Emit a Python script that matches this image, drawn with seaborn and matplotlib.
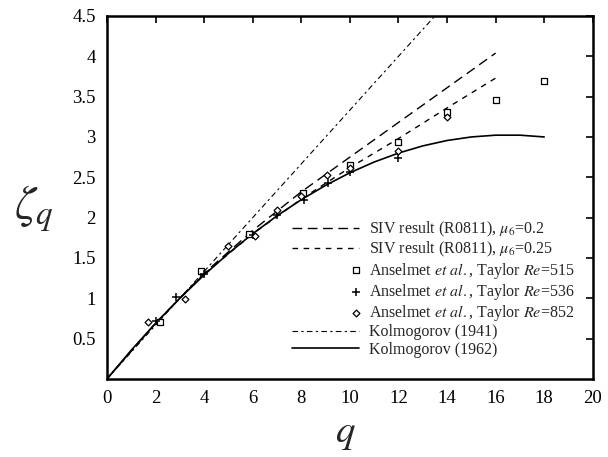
import matplotlib
matplotlib.use("Agg")
import matplotlib.pyplot as plt
import seaborn as sns
import numpy as np
from matplotlib.legend_handler import HandlerPathCollection

# ---- data ----
q_siv = [0, 2, 3, 4, 6, 8, 10, 12, 14, 16]
zeta_siv_02 = [0, 0.69, 1.0, 1.31, 1.84, 2.32, 2.75, 3.18, 3.61, 4.04]
zeta_siv_025 = [0, 0.69, 1.0, 1.30, 1.80, 2.23, 2.62, 2.98, 3.36, 3.73]

q_k41 = [0, 13.5]
zeta_k41 = [0, 4.5]

q_k62 = [0, 1, 2, 3, 4, 5, 6, 7, 8, 9, 10, 11, 12, 13, 14, 15, 16, 17, 18]
zeta_k62 = [0, 0.356, 0.689, 1.0, 1.289, 1.556, 1.8, 2.022, 2.222, 2.4,
            2.556, 2.689, 2.8, 2.889, 2.956, 3.0, 3.022, 3.022, 3.0]

q_515 = [2.2, 3.85, 5.85, 8.05, 10.0, 12.0, 14.0, 16.0, 18.0]
zeta_515 = [0.71, 1.34, 1.80, 2.30, 2.65, 2.94, 3.31, 3.46, 3.69]

q_536 = [2.0, 2.85, 4.0, 6.0, 7.0, 8.1, 9.1, 10.0, 12.0]
zeta_536 = [0.72, 1.02, 1.30, 1.78, 2.03, 2.22, 2.43, 2.57, 2.74]

q_852 = [1.7, 3.2, 5.0, 6.1, 7.0, 8.0, 9.05, 10.0, 12.0, 14.0]
zeta_852 = [0.71, 0.99, 1.65, 1.77, 2.10, 2.27, 2.53, 2.62, 2.82, 3.25]

x_ticks = [0, 2, 4, 6, 8, 10, 12, 14, 16, 18, 20]
y_ticks = [0.5, 1, 1.5, 2, 2.5, 3, 3.5, 4, 4.5]
y_tick_labels = ["0.5", "1", "1.5", "2", "2.5", "3", "3.5", "4", "4.5"]

sns.set_theme(style="white")
plt.rcParams['font.family'] = ['Liberation Serif', 'DejaVu Serif']
plt.rcParams['mathtext.fontset'] = 'stix'

fig = plt.figure(figsize=(6.08, 4.57), dpi=100)
ax = fig.add_axes([0.176, 0.171, 0.799, 0.794])

lw = 1.0
sns.lineplot(x=q_siv, y=zeta_siv_02, ax=ax, color='black', lw=lw,
             linestyle=(0, (7, 4)), label=r'SIV result (R0811), $\mu_6$=0.2')
sns.lineplot(x=q_siv, y=zeta_siv_025, ax=ax, color='black', lw=lw,
             linestyle=(0, (4, 4)), label=r'SIV result (R0811), $\mu_6$=0.25')
sns.scatterplot(x=q_515, y=zeta_515, ax=ax, marker='s', s=22,
                facecolor='white', edgecolor='black', linewidth=0.9,
                label=r'Anselmet $\mathit{et\ al.}$, Taylor $\mathit{Re}$=515', zorder=5)
sns.scatterplot(x=q_536, y=zeta_536, ax=ax, marker='+', s=32,
                color='black', linewidth=1.1,
                label=r'Anselmet $\mathit{et\ al.}$, Taylor $\mathit{Re}$=536', zorder=5)
sns.scatterplot(x=q_852, y=zeta_852, ax=ax, marker='D', s=12,
                facecolor='white', edgecolor='black', linewidth=0.9,
                label=r'Anselmet $\mathit{et\ al.}$, Taylor $\mathit{Re}$=852', zorder=5)
sns.lineplot(x=q_k41, y=zeta_k41, ax=ax, color='black', lw=0.8,
             linestyle=(0, (5, 3, 2, 3)), label='Kolmogorov (1941)')
sns.lineplot(x=q_k62, y=zeta_k62, ax=ax, color='black', lw=1.2,
             linestyle='-', label='Kolmogorov (1962)')

ax.set_xlim(0, 20)
ax.set_ylim(0, 4.5)
ax.set_xticks(x_ticks)
ax.set_xticklabels([str(t) for t in x_ticks])
ax.set_yticks(y_ticks)
ax.set_yticklabels(y_tick_labels)
ax.tick_params(axis='both', direction='in', length=5, width=1.2, labelsize=13.5,
               top=True, right=True, colors='black', pad=8)
ax.tick_params(axis='x', pad=8)
for sp in ax.spines.values():
    sp.set_color('black')
    sp.set_linewidth(1.8)

ax.set_xlabel(r'$q$', fontsize=28)
ax.xaxis.set_label_coords(0.49, -0.10)
ax.set_ylabel(r'$\zeta_q$', fontsize=34, rotation=0)
ax.yaxis.set_label_coords(-0.15, 0.40)


class RightMarker(HandlerPathCollection):
    def get_xdata(self, legend, xdescent, ydescent, width, height, fontsize):
        x = width - 0.2 * fontsize - xdescent
        return [x], [x]


handles, labels = ax.get_legend_handles_labels()
hmap = {h: RightMarker(numpoints=1) for h in handles
        if isinstance(h, matplotlib.collections.PathCollection)}
leg = ax.legend(handles, labels, loc='upper left', bbox_to_anchor=(0.381, 0.439),
                frameon=False, fontsize=11.5, handlelength=4.2, handletextpad=0.6,
                labelspacing=0.08, borderpad=0, borderaxespad=0,
                scatterpoints=1, handler_map=hmap)

fig.savefig('out.png', dpi=100, facecolor='white')
